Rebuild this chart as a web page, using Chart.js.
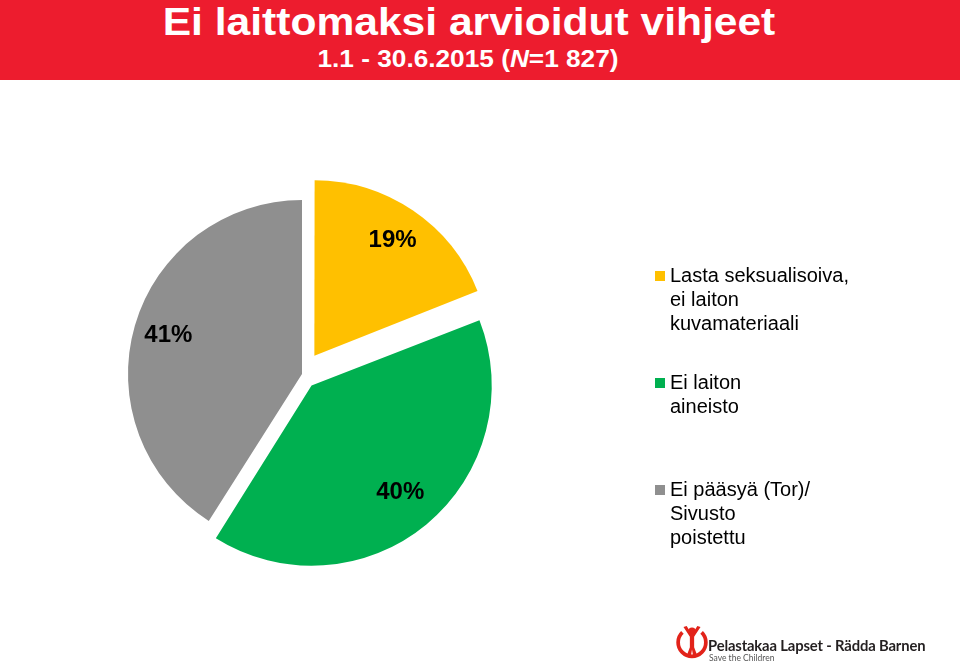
<!DOCTYPE html>
<html>
<head>
<meta charset="utf-8">
<script src="https://cdn.jsdelivr.net/npm/chart.js@4/dist/chart.umd.min.js"></script>
<style>
    body { margin: 0; width: 960px; height: 666px; position: relative; overflow: hidden; background: #fff;
           font-family: "Liberation Sans", Arial, sans-serif; }
    #band { position: absolute; left: 0; top: 0; width: 960px; height: 80px; background: #ed1c2e; }
    .head { position: absolute; width: 960px; text-align: center; color: #fff; font-weight: bold; white-space: nowrap; }
    #title { left: -11px; top: 3px; font-size: 38px; line-height: 38px; transform: scaleX(1.12); }
    #subtitle { left: -12px; top: 48px; font-size: 23px; line-height: 23px; transform: scaleX(1.14); }
    #chart { position: absolute; left: 0; top: 0; }
    #logo { position: absolute; left: 676px; top: 622px; width: 280px; height: 44px; }
    #logo svg { position: absolute; left: 0; top: 0; }
    #logoName { position: absolute; left: 32px; top: 14px; font-family: Lato, "Open Sans", sans-serif; font-weight: bold;
                font-size: 14.8px; color: #231f20; letter-spacing: -0.15px; white-space: nowrap; }
    #logoSub { position: absolute; left: 33px; top: 31px; font-family: Lato, sans-serif; font-size: 8.5px; color: #555; }
</style>
</head>
<body>
<div id="band"></div>
<div class="head" id="title">Ei laittomaksi arvioidut vihjeet</div>
<div class="head" id="subtitle">1.1 - 30.6.2015 (<i>N</i>=1 827)</div>
<canvas id="chart" width="960" height="666"></canvas>
<div id="logo">
    <svg width="32" height="40" viewBox="0 0 30 34">
        <path d="M6 8 A13 13 0 1 0 24 8" fill="none" stroke="#e2231a" stroke-width="3.5"/>
        <circle cx="15" cy="7" r="3.5" fill="#e2231a"/>
        <path d="M7 3 L13 12 L13 22 L10 30 L14 30 L15 24 L16 30 L20 30 L17 22 L17 12 L23 3 L20 2 L15 10 L10 2 Z" fill="#e2231a"/>
    </svg>
    <div id="logoName">Pelastakaa Lapset - Rädda Barnen</div>
    <div id="logoSub">Save the Children</div>
</div>
<script>
// Categories (legend labels, already split into lines like the slide)
const categories = [
    ['Lasta seksualisoiva,', 'ei laiton', 'kuvamateriaali'],
    ['Ei laiton', 'aineisto'],
    ['Ei pääsyä (Tor)/', 'Sivusto', 'poistettu']
];
// Share of tips, percent
const shares = [19, 40, 41];
const sliceColors = ['#ffc000', '#00b050', '#8f8f8f'];

// Percent labels inside the slices
// (Chart.js v4 moves an arc by offset / 4, so follow the same shift)
const pctLabels = {
    id: 'pctLabels',
    afterDatasetsDraw(chart) {
        const ctx = chart.ctx;
        const ds = chart.data.datasets[0];
        const meta = chart.getDatasetMeta(0);
        ctx.save();
        ctx.font = 'bold 24px "Liberation Sans", Arial, sans-serif';
        ctx.fillStyle = '#000';
        ctx.textAlign = 'center';
        ctx.textBaseline = 'middle';
        meta.data.forEach((arc, i) => {
            const p = arc.getProps(['x', 'y', 'startAngle', 'endAngle', 'outerRadius'], true);
            const mid = (p.startAngle + p.endAngle) / 2;
            const d = ds.offset[i] / 4 + p.outerRadius * 0.8;
            ctx.fillText(ds.data[i] + '%', p.x + Math.cos(mid) * d, p.y + Math.sin(mid) * d);
        });
        ctx.restore();
    }
};

// Legend on the right, one block per category with wrapped lines
const sideLegend = {
    id: 'sideLegend',
    afterDraw(chart) {
        const ctx = chart.ctx;
        const colors = chart.data.datasets[0].backgroundColor;
        ctx.save();
        ctx.font = '20px "Liberation Sans", Arial, sans-serif';
        ctx.textBaseline = 'middle';
        ctx.textAlign = 'left';
        chart.data.labels.forEach((lines, i) => {
            const top = 276 + i * 107;
            ctx.fillStyle = colors[i];
            ctx.fillRect(655, top - 5, 10, 10);
            ctx.fillStyle = '#000';
            lines.forEach((line, j) => ctx.fillText(line, 670, top + j * 24));
        });
        ctx.restore();
    }
};

new Chart(document.getElementById('chart'), {
    type: 'pie',
    data: {
        labels: categories,
        datasets: [{
            data: shares,
            backgroundColor: sliceColors,
            borderWidth: 0,
            offset: [88, 60, 0],
            hoverOffset: 0
        }]
    },
    options: {
        responsive: false,
        devicePixelRatio: 1,
        animation: false,
        radius: 174,
        layout: { padding: { left: 100, right: 456, top: 182, bottom: 100 } },
        plugins: {
            legend: { display: false },
            tooltip: { enabled: false }
        }
    },
    plugins: [pctLabels, sideLegend]
});
</script>
</body>
</html>
